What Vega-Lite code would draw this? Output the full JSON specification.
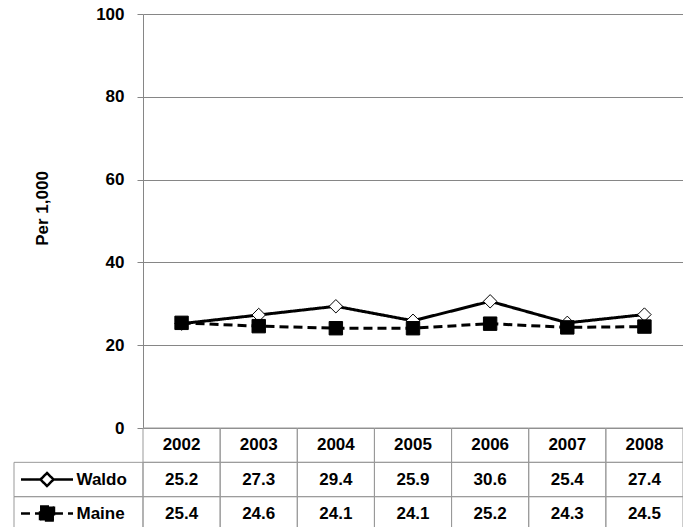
{
  "$schema": "https://vega.github.io/schema/vega-lite/v6.json",
  "padding": 0,
  "spacing": 0,
  "bounds": "flush",
  "columns": 3,
  "config": {
    "view": {"stroke": null},
    "font": "Liberation Sans",
    "concat": {"spacing": 0}
  },
  "datasets": {
    "rates": [
      {"year": "2002", "Waldo": 25.2, "Maine": 25.4},
      {"year": "2003", "Waldo": 27.3, "Maine": 24.6},
      {"year": "2004", "Waldo": 29.4, "Maine": 24.1},
      {"year": "2005", "Waldo": 25.9, "Maine": 24.1},
      {"year": "2006", "Waldo": 30.6, "Maine": 25.2},
      {"year": "2007", "Waldo": 25.4, "Maine": 24.3},
      {"year": "2008", "Waldo": 27.4, "Maine": 24.5}
    ]
  },
  "resolve": {"legend": {"strokeDash": "independent"}},
  "concat": [
    {"width": 14, "height": 14, "data": {"values": []}, "mark": "point"},
    {"width": 129, "height": 14, "data": {"values": []}, "mark": "point"},
    {"width": 540, "height": 14, "data": {"values": []}, "mark": "point"},
    {"width": 14, "height": 414, "data": {"values": []}, "mark": "point"},
    {"width": 129, "height": 414, "data": {"values": []}, "mark": "point"},
    {
      "width": 540,
      "height": 414,
      "data": {"name": "rates"},
      "transform": [{"fold": ["Waldo", "Maine"], "as": ["series", "value"]}],
      "encoding": {
        "x": {"field": "year", "type": "ordinal", "scale": {"type": "point", "padding": 0.5}, "axis": null},
        "y": {
          "field": "value",
          "type": "quantitative",
          "scale": {"domain": [0, 100], "nice": false},
          "axis": {
            "values": [0, 20, 40, 60, 80, 100],
            "grid": true,
            "gridColor": "#868686",
            "gridOpacity": 1,
            "domain": true,
            "domainColor": "#868686",
            "tickColor": "#868686",
            "tickSize": 6,
            "labelPadding": 13,
            "labelFont": "Liberation Sans",
            "labelFontSize": 17,
            "labelFontWeight": "bold",
            "labelColor": "black",
            "title": "Per 1,000",
            "titleFont": "Liberation Sans",
            "titleFontSize": 17,
            "titleFontWeight": "bold",
            "titleColor": "black",
            "titleX": -101,
            "titleY": 194,
            "titleAngle": 270,
            "titleAlign": "center",
            "titleBaseline": "middle"
          }
        }
      },
      "layer": [
        {
          "mark": {"type": "line", "color": "black", "strokeWidth": 3},
          "encoding": {
            "strokeDash": {
              "field": "series",
              "type": "nominal",
              "scale": {"domain": ["Waldo", "Maine"], "range": [[1, 0], [9, 5]]},
              "legend": {
                "orient": "none",
                "legendX": -123.5,
                "legendY": 455.5,
                "title": null,
                "padding": 0,
                "symbolSize": 289,
                "symbolStrokeWidth": 2.5,
                "symbolStrokeColor": "black",
                "symbolOffset": 17.5,
                "labelOffset": 19.5,
                "rowPadding": 10,
                "labelFont": "Liberation Sans",
                "labelFontSize": 17,
                "labelFontWeight": "bold",
                "labelColor": "black",
                "labelLimit": 200,
                "encode": {
                  "symbols": {
                    "update": {
                      "shape": {"signal": "datum.value === 'Waldo' ? 'M-3.06,0L-0.765,0M0.765,0L3.06,0M0,-0.765L0.765,0L0,0.765L-0.765,0Z' : 'M-3.06,0L-0.82,0M0.82,0L3.06,0M-0.82,-0.82L0.82,-0.82L0.82,0.82L-0.82,0.82Z'"},
                      "fill": {"signal": "datum.value === 'Waldo' ? 'white' : 'black'"},
                      "stroke": {"value": "black"},
                      "strokeWidth": {"value": 2.5},
                      "opacity": {"value": 1}
                    }
                  }
                }
              }
            }
          }
        },
        {
          "mark": {"type": "point", "filled": true, "stroke": "black", "strokeWidth": 1, "opacity": 1, "size": 180},
          "encoding": {
            "shape": {"field": "series", "type": "nominal", "scale": {"domain": ["Waldo", "Maine"], "range": ["diamond", "square"]}, "legend": null},
            "fill": {"field": "series", "type": "nominal", "scale": {"domain": ["Waldo", "Maine"], "range": ["white", "black"]}, "legend": null}
          }
        }
      ]
    },
    {"width": 14, "height": 103, "data": {"values": []}, "mark": "point"},
    {
      "width": 129,
      "height": 103,
      "data": {"name": "rates"},
      "transform": [
        {"fold": ["Waldo", "Maine"], "as": ["series", "value"]},
        {"aggregate": [{"op": "count", "as": "n"}], "groupby": ["series"]}
      ],
      "mark": {"type": "rect", "fill": "transparent", "stroke": "#999999", "strokeWidth": 1},
      "encoding": {
        "y": {"field": "series", "type": "nominal", "scale": {"domain": ["Year", "Waldo", "Maine"], "paddingInner": 0, "paddingOuter": 0}, "axis": null}
      }
    },
    {
      "width": 540,
      "height": 103,
      "data": {"name": "rates"},
      "encoding": {
        "x": {"field": "year", "type": "ordinal", "scale": {"paddingInner": 0, "paddingOuter": 0}, "axis": null}
      },
      "layer": [
        {
          "mark": {"type": "rect", "fill": "transparent", "stroke": "#999999", "strokeWidth": 1},
          "encoding": {
            "y": {"datum": "Year", "type": "nominal", "scale": {"domain": ["Year", "Waldo", "Maine"], "paddingInner": 0, "paddingOuter": 0}, "axis": null}
          }
        },
        {
          "mark": {"type": "text", "font": "Liberation Sans", "fontSize": 17, "fontWeight": "bold", "color": "black", "baseline": "middle"},
          "encoding": {
            "y": {"datum": "Year", "type": "nominal"},
            "text": {"field": "year"}
          }
        },
        {
          "transform": [{"fold": ["Waldo", "Maine"], "as": ["series", "value"]}],
          "mark": {"type": "rect", "fill": "transparent", "stroke": "#999999", "strokeWidth": 1},
          "encoding": {
            "y": {"field": "series", "type": "nominal"}
          }
        },
        {
          "transform": [{"fold": ["Waldo", "Maine"], "as": ["series", "value"]}],
          "mark": {"type": "text", "font": "Liberation Sans", "fontSize": 17, "fontWeight": "bold", "color": "black", "baseline": "middle"},
          "encoding": {
            "y": {"field": "series", "type": "nominal"},
            "text": {"field": "value", "type": "quantitative", "format": ".1f"}
          }
        }
      ]
    }
  ]
}
